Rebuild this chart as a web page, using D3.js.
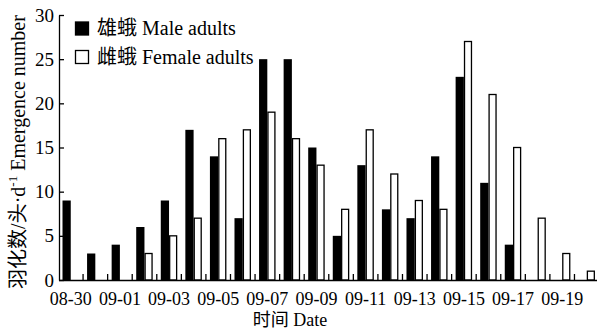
<!DOCTYPE html>
<html>
<head>
<meta charset="utf-8">
<script src="https://cdn.jsdelivr.net/npm/d3@7"></script>
<style>
  body { margin: 0; background: #fff; }
</style>
</head>
<body>
<div id="chart"></div>
<script>
// Data
const dates = ["08-30", "08-31", "09-01", "09-02", "09-03", "09-04", "09-05", "09-06", "09-07", "09-08", "09-09",
               "09-10", "09-11", "09-12", "09-13", "09-14", "09-15", "09-16", "09-17", "09-18", "09-19", "09-20"];
const maleAdults   = [9, 3, 4, 6, 9, 17, 14, 7, 25, 25, 15, 5, 13, 8, 7, 14, 23, 11, 4, 0, 0, 0];
const femaleAdults = [0, 0, 0, 3, 5, 7, 16, 17, 19, 16, 13, 8, 17, 12, 9, 8, 27, 21, 15, 7, 3, 1];
const yTicks = [0, 5, 10, 15, 20, 25, 30];

const FONT = "'Liberation Serif', 'Noto Sans CJK SC', serif";
const width = 597, height = 330;
const svg = d3.select("#chart").append("svg").attr("width", width).attr("height", height);

const x = d3.scaleBand().domain(dates).range([58.5, 58.5 + 22 * 24.57]).padding(0);
const x1 = d3.scaleBand().domain(["male", "female"]).range([4, 20.5]).padding(0);
const y = d3.scaleLinear().domain([0, 30]).range([280, 15]);

const rows = dates.map((d, i) => ({ date: d, male: maleAdults[i], female: femaleAdults[i] }));

// Bars
const groups = svg.append("g").selectAll("g")
    .data(rows).enter().append("g")
    .attr("transform", d => `translate(${x(d.date)},0)`);

groups.filter(d => d.male > 0).append("rect")
    .attr("x", x1("male"))
    .attr("y", d => y(d.male))
    .attr("width", x1.bandwidth())
    .attr("height", d => y(0) - y(d.male))
    .attr("fill", "#000");

groups.filter(d => d.female > 0).append("rect")
    .attr("x", x1("female") + 0.65)
    .attr("y", d => y(d.female))
    .attr("width", x1.bandwidth() - 1.3)
    .attr("height", d => y(0) - y(d.female))
    .attr("fill", "#fff")
    .attr("stroke", "#000")
    .attr("stroke-width", 1.3);

// Y axis (ticks point inward)
const yAxis = svg.append("g")
    .attr("transform", "translate(59,0)")
    .call(d3.axisLeft(y).tickValues(yTicks).tickSize(-5).tickSizeOuter(0).tickPadding(5));
yAxis.select(".domain").attr("stroke", "#000").attr("stroke-width", 1.3);
yAxis.selectAll(".tick line").attr("stroke", "#000").attr("stroke-width", 1.3);
yAxis.selectAll(".tick text").style("font-family", FONT).style("font-size", "19px").attr("fill", "#000");

// X axis: labels every other day, ticks at band boundaries
const xAxis = svg.append("g")
    .attr("transform", "translate(0,280)")
    .call(d3.axisBottom(x).tickValues(dates.filter((d, i) => i % 2 === 0)).tickSize(0).tickPadding(12));
xAxis.select(".domain").attr("stroke", "#000").attr("stroke-width", 1.3);
xAxis.selectAll(".tick text").style("font-family", FONT).style("font-size", "18px").attr("fill", "#000");

svg.append("g").selectAll("line")
    .data(dates.slice(1)).enter().append("line")
    .attr("x1", d => x(d)).attr("x2", d => x(d))
    .attr("y1", 280).attr("y2", 274)
    .attr("stroke", "#000").attr("stroke-width", 1.3);

// Axis titles
svg.append("text")
    .attr("x", 290).attr("y", 326)
    .attr("text-anchor", "middle")
    .style("font-family", FONT).style("font-size", "18px")
    .text("时间 Date");

const yTitle = svg.append("text")
    .attr("transform", "translate(25,152) rotate(-90)")
    .attr("text-anchor", "middle")
    .style("font-family", FONT).style("font-size", "20px");
yTitle.append("tspan").text("羽化数/头·d");
yTitle.append("tspan").style("font-size", "13px").attr("dy", -8).text("-1");
yTitle.append("tspan").attr("dy", 8).text(" Emergence number");

// Legend
const legendItems = [
    { label: "雄蛾 Male adults", fill: "#000", y: 22 },
    { label: "雌蛾 Female adults", fill: "#fff", y: 50.5 }
];
const legend = svg.append("g").selectAll("g")
    .data(legendItems).enter().append("g");
legend.append("rect")
    .attr("x", 75.5).attr("y", d => d.y)
    .attr("width", 13).attr("height", 13)
    .attr("fill", d => d.fill)
    .attr("stroke", "#000").attr("stroke-width", 1.3);
legend.append("text")
    .attr("x", 97).attr("y", d => d.y + 13)
    .style("font-family", FONT).style("font-size", "20px")
    .text(d => d.label);
</script>
</body>
</html>
